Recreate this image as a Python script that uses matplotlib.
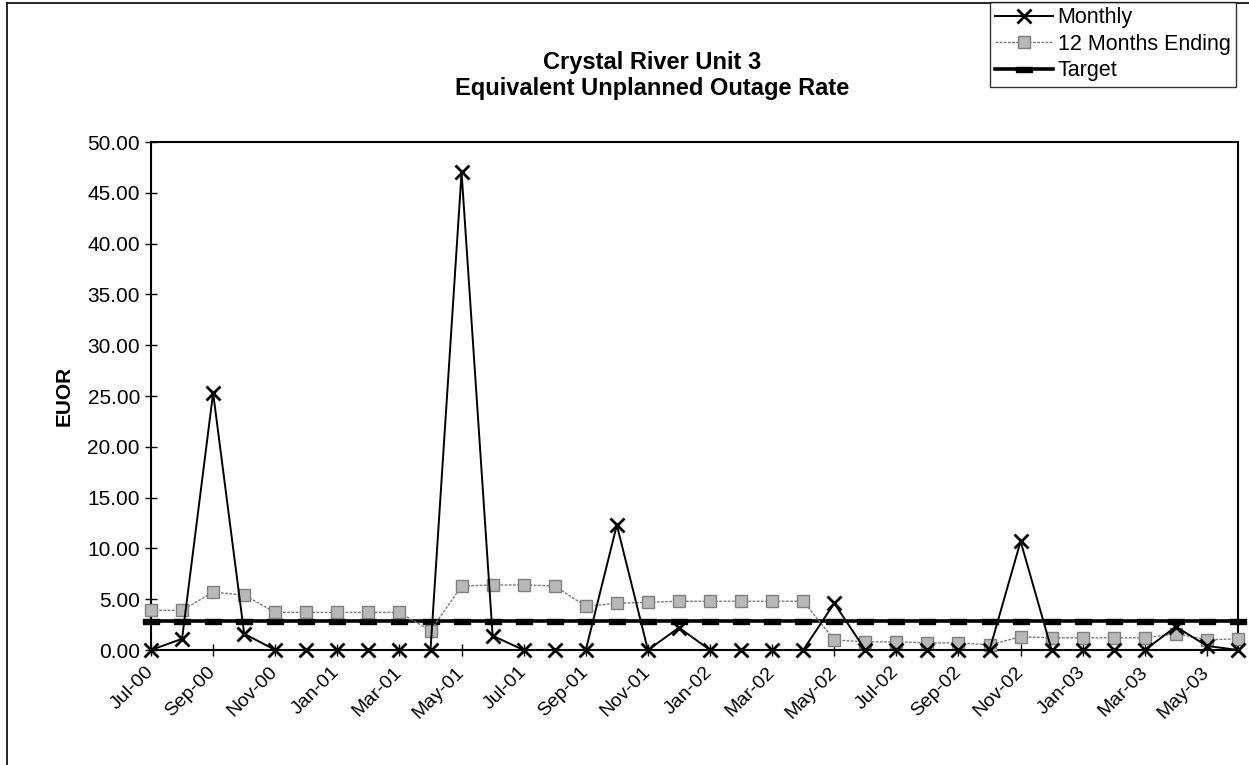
#!/usr/bin/env python3
# -*- coding: utf-8 -*-
'''
Crystal River Unit 3 - Equivalent Unplanned Outage Rate (EUOR), Jul-00 to Jun-03.

Usage:
    python plot.py
'''

import matplotlib
matplotlib.use('Agg')
from matplotlib import pyplot as plt
from matplotlib.lines import Line2D

## data
months = ['Jul-00', 'Aug-00', 'Sep-00', 'Oct-00', 'Nov-00', 'Dec-00',
          'Jan-01', 'Feb-01', 'Mar-01', 'Apr-01', 'May-01', 'Jun-01',
          'Jul-01', 'Aug-01', 'Sep-01', 'Oct-01', 'Nov-01', 'Dec-01',
          'Jan-02', 'Feb-02', 'Mar-02', 'Apr-02', 'May-02', 'Jun-02',
          'Jul-02', 'Aug-02', 'Sep-02', 'Oct-02', 'Nov-02', 'Dec-02',
          'Jan-03', 'Feb-03', 'Mar-03', 'Apr-03', 'May-03', 'Jun-03']

monthly = [0.0, 1.1, 25.3, 1.6, 0.0, 0.0,
           0.0, 0.0, 0.0, 0.0, 47.0, 1.4,
           0.0, 0.0, 0.0, 12.3, 0.0, 2.2,
           0.0, 0.0, 0.0, 0.0, 4.6, 0.0,
           0.0, 0.0, 0.0, 0.0, 10.7, 0.0,
           0.0, 0.0, 0.0, 2.3, 0.4, 0.0]

twelve_months = [3.9, 3.9, 5.7, 5.4, 3.7, 3.7,
                 3.7, 3.7, 3.7, 1.9, 6.3, 6.4,
                 6.4, 6.3, 4.3, 4.6, 4.7, 4.8,
                 4.8, 4.8, 4.8, 4.8, 1.0, 0.8,
                 0.8, 0.7, 0.7, 0.5, 1.3, 1.2,
                 1.2, 1.2, 1.2, 1.6, 1.0, 1.1]

target = [2.9, 2.9, 2.9, 2.9, 2.9, 2.9,
          2.9, 2.9, 2.9, 2.9, 2.9, 2.9,
          2.9, 2.9, 2.9, 2.9, 2.9, 2.9,
          2.9, 2.9, 2.9, 2.9, 2.9, 2.9,
          2.9, 2.9, 2.9, 2.9, 2.9, 2.9,
          2.9, 2.9, 2.9, 2.9, 2.9, 2.9]

yticks = [0, 5, 10, 15, 20, 25, 30, 35, 40, 45, 50]

# flat bar marker for the target line
BAR = [(-1, -0.3), (1, -0.3), (1, 0.3), (-1, 0.3), (-1, -0.3)]


def plot_euor(fn='out.png'):
    plt.rcParams['font.family'] = ['Liberation Sans', 'DejaVu Sans']
    fig = plt.figure(figsize=(12.49, 7.65), dpi=100)
    ax = fig.add_axes([151/1249, 1-650/765, (1238-151)/1249, (650-142)/765])
    x = list(range(len(months)))

    ax.plot(x, target, color='black', lw=2.6, marker=BAR, markersize=12,
            markerfacecolor='black', markeredgecolor='black', label='Target',
            clip_on=False, zorder=2)
    ax.plot(x, twelve_months, color='#7a7a7a', lw=1.0, ls=(0, (2, 1)),
            marker='s', markersize=9,
            markerfacecolor='#b8b8b8', markeredgecolor='#7f7f7f', markeredgewidth=1.0,
            label='12 Months Ending', clip_on=False, zorder=3)
    ax.plot(x, monthly, color='black', lw=1.4, marker='x', markersize=10,
            markeredgewidth=2.0, label='Monthly', clip_on=False, zorder=4)

    ax.set_xlim(0, len(months) - 1)
    ax.set_ylim(0, 50)
    ax.set_yticks(yticks)
    ax.set_yticklabels([f'{v:.2f}' for v in yticks], fontsize=15)
    ax.set_xticks(x[::2])
    ax.set_xticklabels(months[::2], fontsize=14, rotation=45,
                       ha='right', va='center', rotation_mode='anchor')
    ax.tick_params(axis='y', direction='inout', length=8, width=1, pad=4)
    ax.tick_params(axis='x', direction='inout', length=8, width=1, pad=10)
    for s in ax.spines.values():
        s.set_linewidth(1.5)
    ax.set_ylabel('EUOR', fontsize=15, fontweight='bold', labelpad=10)

    fig.text(0.522, 1-62/765, 'Crystal River Unit 3', ha='center', va='center',
             fontsize=17, fontweight='bold')
    fig.text(0.522, 1-89/765, 'Equivalent Unplanned Outage Rate', ha='center',
             va='center', fontsize=17, fontweight='bold')

    handles, labels = ax.get_legend_handles_labels()
    leg = fig.legend(handles[::-1], labels[::-1], loc='upper right',
                     bbox_to_anchor=(1236/1249, 1-2/765), fontsize=15.5,
                     frameon=True, fancybox=False, edgecolor='black',
                     borderpad=0.25, labelspacing=0.25, handlelength=2.7,
                     handletextpad=0.2, borderaxespad=0)
    leg.get_frame().set_linewidth(1.0)

    # outer chart border (left and top edges visible in the scan)
    fig.add_artist(Line2D([7/1249, 7/1249], [0, 1-3/765], color='black', lw=1.2))
    fig.add_artist(Line2D([7/1249, 1], [1-3/765, 1-3/765], color='black', lw=1.2))

    fig.savefig(fn, dpi=100)
    print(f"Plot saved to {fn}")


if __name__ == "__main__":
    plot_euor('out.png')
